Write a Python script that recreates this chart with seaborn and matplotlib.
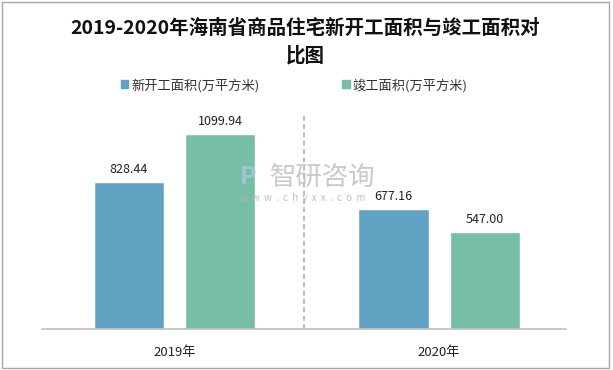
import matplotlib
matplotlib.use("Agg")
import matplotlib.pyplot as plt
import matplotlib.patches as mpatches
import seaborn as sns
import pandas as pd

# Data
years = ["2019年", "2020年"]
new_start = [828.44, 677.16]     # 新开工面积(万平方米)
completed = [1099.94, 547.00]    # 竣工面积(万平方米)
series_names = ["新开工面积(万平方米)", "竣工面积(万平方米)"]
title = "2019-2020年海南省商品住宅新开工面积与竣工面积对\n比图"

colors = ["#62A3C3", "#76BEA5"]

sns.set_theme(style="white")
plt.rcParams["font.family"] = ["Noto Sans CJK SC", "DejaVu Sans"]

df = pd.DataFrame({
    "年份": years * 2,
    "面积": new_start + completed,
    "指标": [series_names[0]] * len(years) + [series_names[1]] * len(years),
})

fig = plt.figure(figsize=(6.13, 3.70), dpi=100)
ax = fig.add_axes([0.0685, 0.111, 0.855, 0.575])

sns.barplot(data=df, x="年份", y="面积", hue="指标", palette=colors,
            width=0.69, gap=0.23, saturation=1, ax=ax, legend=False)

for cont in ax.containers:
    ax.bar_label(cont, fmt="%.2f", padding=4, fontsize=9, color="#222222")

ax.set_ylim(0, 1200)
ax.set_xlim(-0.5, 1.48)
ax.axvline(0.49, color="#b0b0b0", linestyle=(0, (3, 2)), linewidth=1.2)

for s in ["top", "right", "left"]:
    ax.spines[s].set_visible(False)
ax.spines["bottom"].set_color("#bfbfbf")
ax.spines["bottom"].set_linewidth(1.2)
ax.set_yticks([])
ax.set_xlabel("")
ax.set_ylabel("")
ax.tick_params(axis="x", length=0, pad=12, labelsize=9.5, colors="#222222")

# title
fig.text(0.498, 0.948, title, ha="center", va="top", fontsize=14,
         fontweight="bold", color="#111111", linespacing=1.45)

# legend
handles = [mpatches.Patch(color=c, label=n) for c, n in zip(colors, series_names)]
fig.legend(handles=handles, loc="center", bbox_to_anchor=(0.48, 0.77), ncol=2,
           frameon=False, fontsize=9.5, handlelength=0.55, handleheight=0.55,
           handletextpad=0.2, columnspacing=6.3, labelcolor="#333333")

# watermark
fig.text(0.526, 0.521, "智研咨询", ha="center", va="center", fontsize=19,
         color="#c4c4c4", alpha=0.9)
fig.text(0.493, 0.465, "w  w  w  .  c  h  y  x  x  .  c  o  m", ha="center",
         va="center", fontsize=7, color="#b8b8b8", alpha=0.9)
fig.text(0.405, 0.521, "P", ha="center", va="center", fontsize=18,
         color="#a5c8dc", alpha=0.85, fontweight="bold")

# outer border
fig.patches.append(mpatches.Rectangle((0.004, 0.005), 0.99, 0.99,
                                      transform=fig.transFigure, fill=False,
                                      edgecolor="#a6a6a6", linewidth=1.0))

fig.savefig("out.png", dpi=100)
